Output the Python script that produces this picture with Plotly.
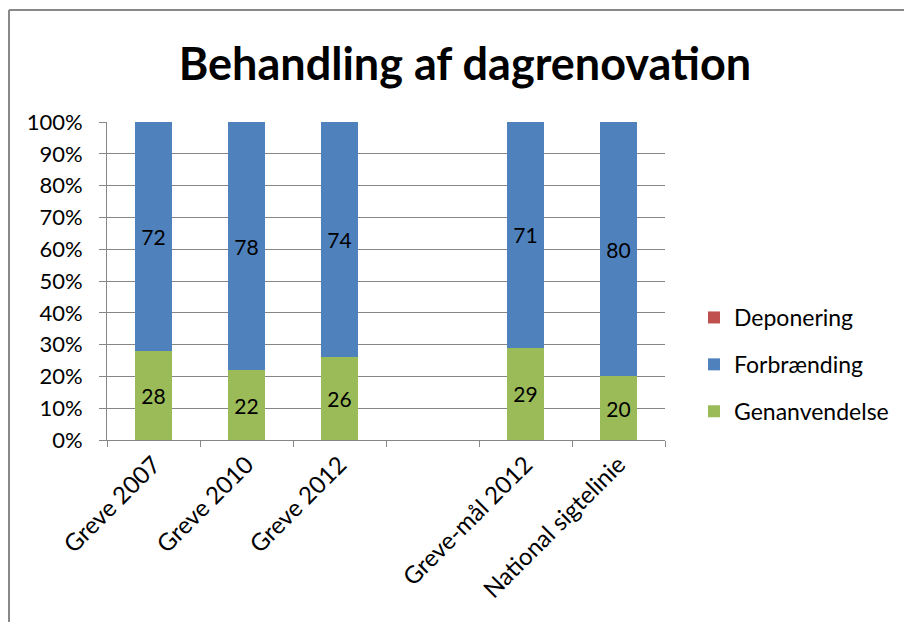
import plotly.graph_objects as go

categories = ["Greve 2007", "Greve 2010", "Greve 2012", "\u00a0", "Greve-mål 2012", "National sigtelinie"]
genanvendelse = [28, 22, 26, None, 29, 20]
forbraending = [72, 78, 74, None, 71, 80]
deponering = [0, 0, 0, None, 0, 0]
y_ticks = [0, 10, 20, 30, 40, 50, 60, 70, 80, 90, 100]
y_tick_labels = [f"{v}%" for v in y_ticks]

FONT = "Lato"
OFF = 8  # page body margin
W, H = 912 - 2 * OFF, 630 - 2 * OFF
L, T = 107 - OFF, 122 - OFF
R = W - (665 - OFF)
B = H - (440 - OFF)
pw, ph = W - L - R, H - T - B


def px_x(x):
    # page x -> paper
    return (x - OFF - L) / pw


def px_y(y):
    # page y -> paper
    return (H - B - (y - OFF)) / ph


fig = go.Figure()
fig.add_trace(go.Bar(
    name="Genanvendelse", x=categories, y=genanvendelse,
    marker=dict(color="#9BBB59", line=dict(width=0)),
    text=[str(v) if v is not None else "" for v in genanvendelse],
    textposition="inside", insidetextanchor="middle",
    textfont=dict(family=FONT, size=21, color="black"),
    legendgroup="g", legendrank=3, width=0.4,
))
fig.add_trace(go.Bar(
    name="Forbrænding", x=categories, y=forbraending,
    marker=dict(color="#4F81BD", line=dict(width=0)),
    text=[str(v) if v is not None else "" for v in forbraending],
    textposition="inside", insidetextanchor="middle",
    textfont=dict(family=FONT, size=21, color="black"),
    legendgroup="f", legendrank=2, width=0.4,
))
fig.add_trace(go.Bar(
    name="Deponering", x=categories, y=deponering,
    marker=dict(color="#C0504D", line=dict(width=0)),
    legendgroup="d", legendrank=1, width=0.4,
))

fig.update_layout(
    width=W, height=H,
    barmode="stack", barnorm="percent",
    plot_bgcolor="white", paper_bgcolor="white",
    margin=dict(l=L, r=R, t=T, b=B, autoexpand=False),
    font=dict(family=FONT, size=21, color="black"),
    title=dict(text="<b>Behandling af dagrenovation</b>", x=(465 - OFF) / W, xanchor="center",
               y=1 - (64 - OFF) / H, yanchor="middle",
               font=dict(family=FONT, size=45, color="black")),
    legend=dict(x=px_x(694), xanchor="left", y=px_y(296), yanchor="top",
                traceorder="grouped", tracegroupgap=14,
                font=dict(family=FONT, size=23, color="black"),
                itemwidth=30, bgcolor="rgba(0,0,0,0)"),
    showlegend=True,
)
fig.update_yaxes(
    range=[0, 100], tickvals=y_ticks, ticktext=y_tick_labels,
    showgrid=True, gridcolor="#868686", gridwidth=1,
    showline=True, linecolor="#868686", linewidth=1,
    ticks="outside", ticklen=7, tickcolor="#868686",
    ticklabelstandoff=12,
    tickfont=dict(family=FONT, size=22), zeroline=False,
)
fig.update_xaxes(
    type="category", categoryorder="array", categoryarray=categories,
    range=[-0.5, 5.5], tickson="boundaries",
    showline=True, linecolor="#868686", linewidth=1,
    ticks="outside", ticklen=6, tickcolor="#868686",
    tickangle=-45, tickfont=dict(family=FONT, size=24),
    showgrid=False,
)

# chart-area frame: top and left edges only
fig.add_shape(type="line", xref="paper", yref="paper",
              x0=px_x(9), x1=px_x(OFF + W), y0=px_y(10), y1=px_y(10),
              line=dict(color="#888888", width=2))
fig.add_shape(type="line", xref="paper", yref="paper",
              x0=px_x(9), x1=px_x(9), y0=px_y(10), y1=px_y(OFF + H),
              line=dict(color="#888888", width=2))

fig.write_html("out.html")
